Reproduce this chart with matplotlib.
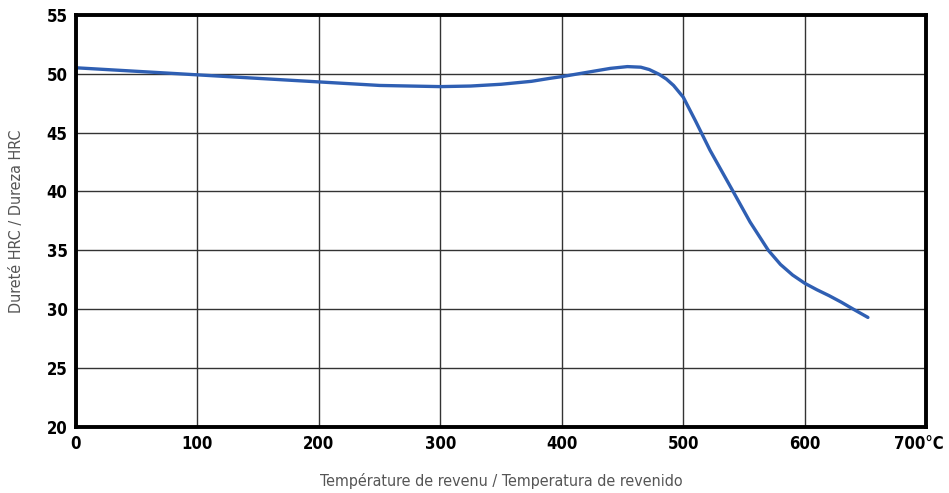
import numpy as np
import matplotlib.pyplot as plt
from matplotlib.transforms import ScaledTranslation

# data
temperature = [0, 50, 100, 150, 200, 250, 300, 325, 350, 375, 390, 400, 420, 440,
               454, 465, 472, 480, 486, 492, 500, 510, 522, 541, 555, 570, 580,
               590, 600, 610, 620, 630, 640, 652]
durete = [50.5, 50.2, 49.9, 49.6, 49.3, 49.0, 48.9, 48.95, 49.1, 49.35, 49.6, 49.75,
          50.1, 50.45, 50.6, 50.55, 50.35, 49.95, 49.55, 49.0, 48.0, 46.0, 43.5,
          40.0, 37.4, 35.0, 33.8, 32.9, 32.2, 31.65, 31.15, 30.6, 30.0, 29.3]
x_ticks = [0, 100, 200, 300, 400, 500, 600, 700]
x_labels = ["0", "100", "200", "300", "400", "500", "600", "700°C"]
y_ticks = [20, 25, 30, 35, 40, 45, 50, 55]

plt.rcParams['font.family'] = ['DejaVu Sans']
plt.rcParams['font.stretch'] = 'condensed'

fig = plt.figure(figsize=(9.49, 4.93), dpi=100)
ax = fig.add_axes([0.080, 0.134, 0.896, 0.836])

ax.plot(temperature, durete, color='#2f5fb3', linewidth=2.4,
        solid_capstyle='round', solid_joinstyle='round')

ax.set_xlim(0, 700)
ax.set_ylim(20, 55)
ax.set_xticks(x_ticks)
ax.set_xticklabels(x_labels, fontsize=12, fontweight='bold', fontstretch='condensed')
ax.set_yticks(y_ticks)
ax.set_yticklabels([str(v) for v in y_ticks], fontsize=12, fontweight='bold',
                   fontstretch='condensed')
ax.tick_params(length=0, pad=6)
# decaler un peu le dernier label pour qu'il reste dans l'image
dernier = ax.get_xticklabels()[-1]
dernier.set_transform(dernier.get_transform() + ScaledTranslation(-5 / 72, 0, fig.dpi_scale_trans))
ax.grid(True, color='#333333', linewidth=1.0)
ax.set_axisbelow(True)
for s in ax.spines.values():
    s.set_linewidth(2.8)
    s.set_color('black')

ax.set_xlabel("Température de revenu / Temperatura de revenido", fontsize=11.5,
              color='#555555', labelpad=14, fontstretch='condensed')
ax.set_ylabel("Dureté HRC / Dureza HRC", fontsize=11.5, color='#555555',
              labelpad=16, fontstretch='condensed')

fig.savefig("out.png", dpi=100)
